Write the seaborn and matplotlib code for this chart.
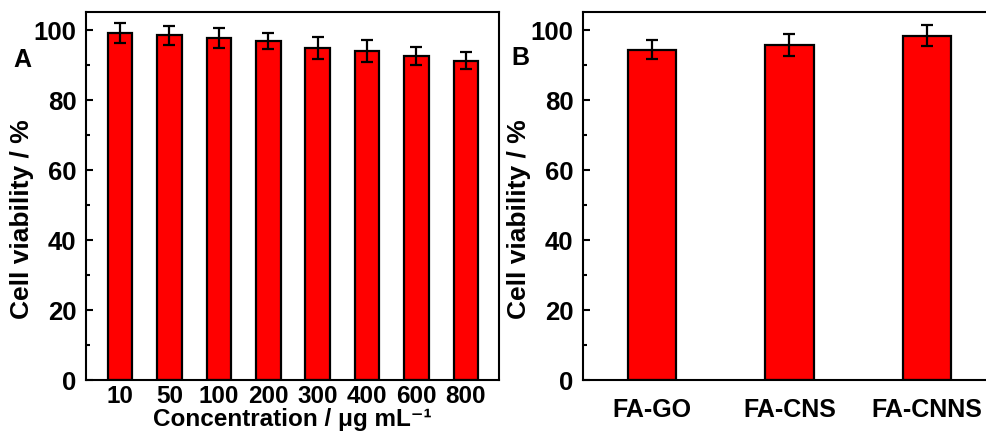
import matplotlib
matplotlib.use("Agg")
import matplotlib.pyplot as plt
import seaborn as sns
import pandas as pd
from matplotlib.ticker import MultipleLocator

conc_labels = ["10", "50", "100", "200", "300", "400", "600", "800"]
conc_viability = [99.1, 98.4, 97.6, 96.7, 94.7, 93.8, 92.5, 91.1]
conc_err = [2.9, 2.7, 2.8, 2.3, 3.1, 3.1, 2.5, 2.5]

mat_labels = ["FA-GO", "FA-CNS", "FA-CNNS"]
mat_viability = [94.3, 95.5, 98.2]
mat_err = [2.6, 3.1, 3.0]

sns.set_style("ticks")
plt.rcParams["font.family"] = ["Liberation Sans", "DejaVu Sans"]
plt.rcParams["font.weight"] = "bold"
plt.rcParams["axes.labelweight"] = "bold"
plt.rcParams["text.color"] = "black"
plt.rcParams["axes.labelcolor"] = "black"
plt.rcParams["xtick.color"] = "black"
plt.rcParams["ytick.color"] = "black"

FS = 18

W, H = 986, 439
fig = plt.figure(figsize=(W / 100, H / 100), dpi=100)

def px_axes(l, r, t, b):
    return fig.add_axes([l / W, 1 - b / H, (r - l) / W, (b - t) / H])

axA = px_axes(86, 499, 13, 381)
axB = px_axes(583, 996, 13, 381)

dfA = pd.DataFrame({"c": conc_labels, "v": conc_viability})
dfB = pd.DataFrame({"c": mat_labels, "v": mat_viability})

sns.barplot(data=dfA, x="c", y="v", color="#ff0000", saturation=1, width=0.5,
            edgecolor="black", linewidth=1.6, ax=axA, errorbar=None)
axA.errorbar(range(len(conc_labels)), conc_viability, yerr=conc_err, fmt="none",
             ecolor="black", elinewidth=1.6, capsize=4, capthick=1.6, zorder=5)

sns.barplot(data=dfB, x="c", y="v", color="#ff0000", saturation=1, width=0.35,
            edgecolor="black", linewidth=1.6, ax=axB, errorbar=None)
axB.errorbar(range(len(mat_labels)), mat_viability, yerr=mat_err, fmt="none",
             ecolor="black", elinewidth=1.6, capsize=4, capthick=1.6, zorder=5)

axA.set_xlim(-0.69, 7.67)
axB.set_xlim(-0.5, 2.5)

for ax, pad, xfs in ((axA, 3, 17.5), (axB, 12, FS)):
    ax.set_ylim(0, 105)
    ax.yaxis.set_major_locator(MultipleLocator(20))
    ax.yaxis.set_minor_locator(MultipleLocator(10))
    ax.tick_params(axis="y", which="major", direction="in", length=5, width=1.5,
                   labelsize=FS + 0.5, pad=7)
    ax.tick_params(axis="y", which="minor", direction="in", length=3, width=1.5)
    ax.tick_params(axis="x", which="both", length=0, labelsize=xfs, pad=pad)
    for lab in ax.get_xticklabels() + ax.get_yticklabels():
        lab.set_fontweight("bold")
    for s in ax.spines.values():
        s.set_visible(True)
        s.set_linewidth(1.5)
        s.set_color("black")
    ax.set_ylabel("Cell viability / %", fontsize=FS + 1, fontweight="bold")
    ax.yaxis.set_label_coords(-0.125, 0.44)

axA.set_xlabel("Concentration / μg mL\u207b\u00b9", fontsize=17.5, fontweight="bold", labelpad=0)
axB.set_xlabel("")

fig.text(22 / W, 1 - 60 / H, "A", fontsize=18, fontweight="bold", ha="center", va="center")
fig.text(520 / W, 1 - 58 / H, "B", fontsize=18, fontweight="bold", ha="center", va="center")

fig.savefig("out.png", dpi=100)
